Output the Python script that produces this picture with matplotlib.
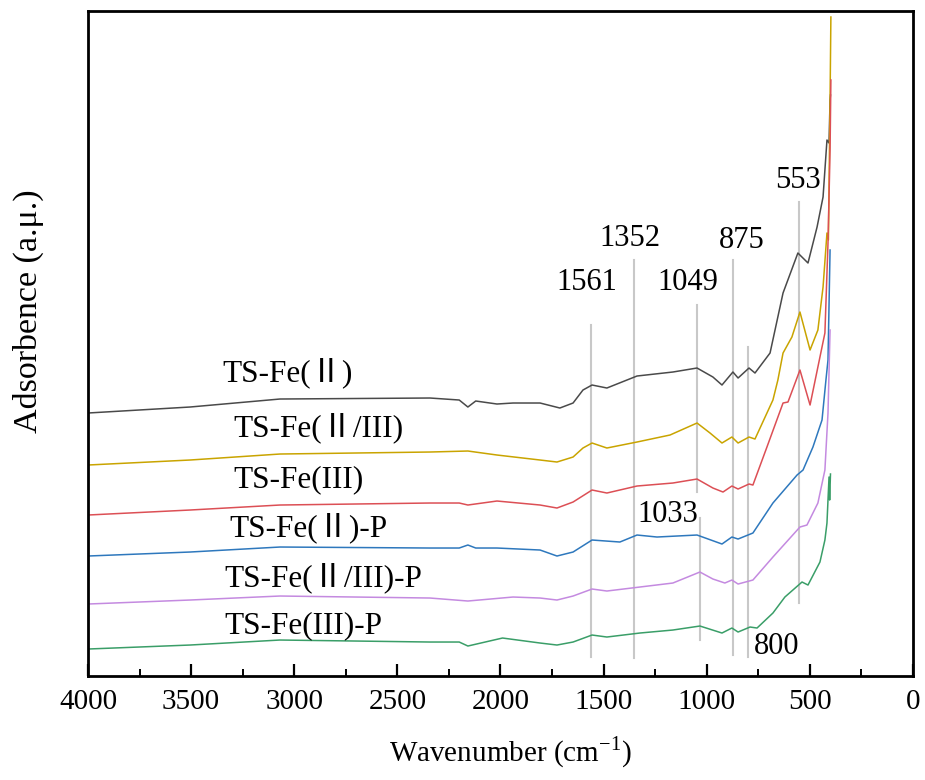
import matplotlib
matplotlib.use("Agg")
import matplotlib.pyplot as plt
from matplotlib.ticker import MultipleLocator

plt.rcParams['font.family'] = ['Liberation Serif', 'Noto Sans CJK SC', 'DejaVu Serif']
plt.rcParams['axes.unicode_minus'] = False

# ---- data (arbitrary absorbance units) ----
wn_fe2 = [4000, 3505, 3069, 2342, 2200, 2158, 2120, 2017, 1939, 1808, 1712, 1648, 1600, 1556,
          1484, 1338, 1164, 1047, 970, 926, 873, 848, 795, 766, 693, 630, 558, 509, 465, 436,
          417, 407, 402, 400]
ab_fe2 = [2.63, 2.69, 2.77, 2.78, 2.76, 2.69, 2.75, 2.72, 2.73, 2.73, 2.68, 2.73, 2.86, 2.91,
          2.88, 3.00, 3.04, 3.08, 2.99, 2.91, 3.04, 2.98, 3.08, 3.03, 3.23, 3.83, 4.23, 4.13, 4.49, 4.79,
          5.36, 5.33, 5.76, 5.81]

wn_fe23 = [4000, 3505, 3069, 2342, 2158, 2017, 1808, 1726, 1648, 1600, 1556, 1484, 1338, 1178,
           1047, 984, 926, 878, 848, 795, 766, 679, 655, 630, 587, 548, 499, 461, 436, 417, 410,
           402, 398]
ab_fe23 = [2.11, 2.16, 2.22, 2.24, 2.25, 2.21, 2.16, 2.14, 2.19, 2.28, 2.33, 2.28, 2.34, 2.41,
           2.53, 2.43, 2.33, 2.39, 2.33, 2.39, 2.37, 2.76, 2.96, 3.23, 3.39, 3.64, 3.26, 3.46, 3.89, 4.43, 4.36,
           5.76, 6.59]

wn_fe3 = [4000, 3505, 3069, 2342, 2200, 2158, 2017, 1808, 1726, 1648, 1556, 1484, 1338, 1164,
          1047, 970, 921, 878, 848, 795, 776, 708, 630, 606, 548, 499, 427, 412, 402, 398]
ab_fe3 = [1.61, 1.66, 1.71, 1.73, 1.73, 1.71, 1.75, 1.71, 1.68, 1.74, 1.86, 1.83, 1.90, 1.93,
          1.97, 1.88, 1.84, 1.90, 1.87, 1.92, 1.91, 2.29, 2.73, 2.74, 3.06, 2.71, 3.43, 4.33, 5.26, 5.96]

wn_fe2p = [4000, 3505, 3069, 2342, 2200, 2158, 2120, 2017, 1808, 1726, 1648, 1556, 1421, 1338,
           1241, 1047, 926, 878, 848, 776, 679, 562, 533, 485, 441, 422, 412, 402]
ab_fe2p = [1.20, 1.24, 1.29, 1.28, 1.28, 1.31, 1.28, 1.28, 1.26, 1.20, 1.24, 1.36, 1.34, 1.41,
           1.39, 1.41, 1.32, 1.39, 1.37, 1.43, 1.73, 2.01, 2.06, 2.29, 2.56, 2.96, 3.16, 4.26]

wn_fe23p = [4000, 3505, 3069, 2342, 2158, 1939, 1808, 1726, 1648, 1556, 1484, 1324, 1164, 1033,
            970, 912, 878, 848, 776, 679, 548, 514, 461, 427, 412, 402]
ab_fe23p = [0.72, 0.76, 0.80, 0.78, 0.75, 0.79, 0.78, 0.76, 0.80, 0.87, 0.85, 0.89, 0.93, 1.04,
            0.97, 0.93, 0.96, 0.92, 0.96, 1.19, 1.49, 1.51, 1.73, 2.06, 2.63, 3.46]

wn_fe3p = [4000, 3505, 3069, 2342, 2200, 2158, 1990, 1808, 1726, 1648, 1556, 1484, 1324, 1164,
           1033, 926, 878, 848, 790, 756, 679, 621, 538, 509, 451, 427, 417, 407, 404, 400]
ab_fe3p = [0.27, 0.31, 0.36, 0.34, 0.34, 0.30, 0.38, 0.33, 0.31, 0.34, 0.41, 0.39, 0.43, 0.46,
           0.50, 0.43, 0.48, 0.44, 0.49, 0.48, 0.63, 0.79, 0.94, 0.91, 1.14, 1.36, 1.53, 1.99, 1.76, 2.02]

names = ['TS-Fe(Ⅱ)', 'TS-Fe(Ⅱ/III)', 'TS-Fe(III)', 'TS-Fe(Ⅱ)-P', 'TS-Fe(Ⅱ/III)-P', 'TS-Fe(III)-P']
colors = ['#4a4a4a', '#c9a400', '#dc4f55', '#2e78bd', '#c48ae0', '#3a9e68']

# marker lines: wavenumber, top, bottom
peak_wn = [1561, 1352, 1049, 1033, 875, 800, 553]
peak_top = [3.51, 4.16, 3.71, 1.58, 4.16, 3.29, 4.74]
peak_bot = [0.19, 0.18, 1.84, 0.36, 0.21, 0.19, 0.73]

fig = plt.figure(figsize=(9.25, 7.8), dpi=100)
ax = fig.add_axes([0.0951, 0.1333, 0.8919, 0.8526])

series = [(wn_fe2, ab_fe2), (wn_fe23, ab_fe23), (wn_fe3, ab_fe3),
          (wn_fe2p, ab_fe2p), (wn_fe23p, ab_fe23p), (wn_fe3p, ab_fe3p)]

for w, top, bot in zip(peak_wn, peak_top, peak_bot):
    ax.plot([w, w], [bot, top], color='#c8c8c8', lw=1.5, zorder=1)

for (w, a), c in zip(series, colors):
    ax.plot(w, a, color=c, lw=1.1, zorder=2)

# curve labels
lab_x = [3350, 3297, 3297, 3316, 3341, 3341]
lab_y = [3.03, 2.48, 1.96, 1.48, 0.98, 0.50]
for n, x, y in zip(names, lab_x, lab_y):
    ax.text(x, y, n, fontsize=22.5, ha='left', va='center')

# peak numbers
ann = [('553', 558, 4.96), ('1352', 1372, 4.38), ('875', 829, 4.36), ('1561', 1581, 3.94),
       ('1049', 1091, 3.94), ('1033', 1188, 1.62), ('800', 659, 0.30)]
for t, x, y in ann:
    ax.text(x, y, t, fontsize=22, ha='center', va='center')

ax.set_xlim(4000, 0)
ax.set_ylim(0, 6.65)
ax.xaxis.set_major_locator(MultipleLocator(500))
ax.xaxis.set_minor_locator(MultipleLocator(250))
ax.set_yticks([])
ax.tick_params(axis='x', which='major', direction='in', length=9, width=1.6, labelsize=21, pad=9)
ax.tick_params(axis='x', which='minor', direction='in', length=5, width=1.4)
for s in ax.spines.values():
    s.set_linewidth(2)

ax.set_xlabel('Wavenumber (cm$^{\\mathregular{-1}}$)', fontsize=21)
ax.set_ylabel('Adsorbence (a.μ.)', fontsize=24.5)
ax.xaxis.set_label_coords(0.5115, -0.088)
ax.yaxis.set_label_coords(-0.053, 0.549)

fig.savefig('out.png', dpi=100)
